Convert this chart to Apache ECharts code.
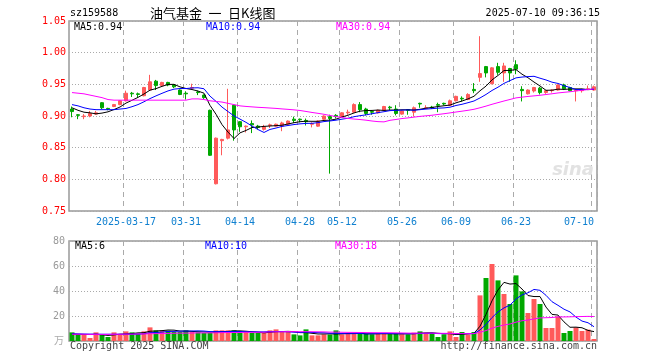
<!DOCTYPE html>
<html><head><meta charset="utf-8">
<script src="https://cdn.jsdelivr.net/npm/echarts@6/dist/echarts.min.js"></script>
<style>html,body{margin:0;padding:0;background:#fff}#c{width:660px;height:360px}</style>
</head><body><div id="c"></div>
<script>
const dates = [
'2025-03-04','2025-03-05','2025-03-06','2025-03-07','2025-03-10','2025-03-11','2025-03-12','2025-03-13','2025-03-14',
'2025-03-17','2025-03-18','2025-03-19','2025-03-20','2025-03-21',
'2025-03-24','2025-03-25','2025-03-26','2025-03-27','2025-03-28',
'2025-03-31','2025-04-01','2025-04-02','2025-04-03',
'2025-04-07','2025-04-08','2025-04-09','2025-04-10','2025-04-11',
'2025-04-14','2025-04-15','2025-04-16','2025-04-17','2025-04-18',
'2025-04-21','2025-04-22','2025-04-23','2025-04-24','2025-04-25',
'2025-04-28','2025-04-29','2025-04-30',
'2025-05-06','2025-05-07','2025-05-08','2025-05-09',
'2025-05-12','2025-05-13','2025-05-14','2025-05-15','2025-05-16',
'2025-05-19','2025-05-20','2025-05-21','2025-05-22','2025-05-23',
'2025-05-26','2025-05-27','2025-05-28','2025-05-29','2025-05-30',
'2025-06-03','2025-06-04','2025-06-05','2025-06-06',
'2025-06-09','2025-06-10','2025-06-11','2025-06-12','2025-06-13',
'2025-06-16','2025-06-17','2025-06-18','2025-06-19','2025-06-20',
'2025-06-23','2025-06-24','2025-06-25','2025-06-26','2025-06-27',
'2025-06-30','2025-07-01','2025-07-02','2025-07-03','2025-07-04',
'2025-07-07','2025-07-08','2025-07-09','2025-07-10'];

const opens = [.911,.902,.899,.900,.903,.921,.912,.915,.918,.924,
.936,.935,.932,.941,.955,.948,.953,.949,.941,.936,
.944,.938,.933,.909,.793,.861,.865,.917,.891,.883,
.888,.884,.879,.885,.884,.884,.887,.895,.895,.893,
.887,.884,.895,.899,.901,.899,.905,.906,.918,.911,
.907,.905,.909,.914,.911,.903,.910,.906,.920,.912,
.914,.918,.920,.917,.924,.928,.926,.942,.961,.978,
.951,.978,.968,.975,.981,.942,.935,.9395,.944,.937,
.940,.941,.949,.945,.940,.940,.942,.941];
const closes = [.907,.901,.900,.904,.905,.913,.911,.918,.924,.936,
.935,.934,.945,.954,.948,.953,.949,.946,.934,.935,
.945,.937,.929,.838,.865,.863,.878,.878,.883,.884,
.886,.882,.883,.886,.887,.889,.892,.893,.894,.891,
.888,.892,.900,.896,.899,.905,.906,.918,.910,.904,
.906,.909,.915,.913,.904,.908,.909,.913,.919,.913,
.913,.917,.919,.924,.931,.927,.934,.940,.967,.968,
.976,.969,.979,.968,.974,.940,.941,.945,.937,.940,
.941,.949,.943,.940,.941,.941,.943,.946];
const lows = [.898,.895,.895,.898,.902,.911,.909,.914,.917,.923,
.930,.929,.931,.940,.941,.947,.947,.944,.933,.926,
.943,.933,.927,.837,.792,.838,.863,.861,.875,.874,
.873,.879,.877,.881,.883,.876,.886,.889,.890,.885,
.882,.883,.894,.809,.896,.898,.902,.905,.906,.901,
.902,.904,.908,.909,.901,.902,.902,.899,.913,.911,
.911,.906,.917,.916,.923,.923,.925,.936,.954,.961,
.950,.965,.954,.954,.966,.923,.934,.937,.934,.935,
.937,.940,.941,.939,.923,.937,.941,.940];
const highs = [.915,.903,.903,.908,.908,.922,.913,.919,.925,.940,
.938,.937,.946,.965,.957,.954,.954,.950,.942,.939,
.951,.940,.934,.910,.866,.864,.943,.918,.892,.885,
.893,.886,.886,.888,.888,.891,.893,.899,.896,.896,
.890,.893,.901,.902,.903,.906,.910,.920,.922,.913,
.909,.910,.916,.916,.917,.909,.911,.915,.921,.917,
.916,.921,.921,.926,.932,.931,.936,.952,1.026,.979,
.977,.984,.984,.976,.988,.947,.942,.946,.946,.941,
.942,.950,.951,.946,.942,.943,.948,.948];

// volume in 万
const volumes = [6.9,5.6,4.8,2.4,6.9,5.1,3.2,6.9,5.1,7.7,
6.9,5.9,7.7,10.9,8.5,8.5,8.3,7.2,7.2,8.5,
7.2,6.9,6.4,6.4,8.5,8.5,8.5,8.5,6.4,7.2,
6.4,6.4,6.4,8.5,9.3,7.2,7.2,5.3,4.5,9.3,
4.5,4.5,5.3,5.2,8.5,5.3,5.9,5.9,6.1,5.6,
5.4,5.9,6.2,5.5,6.0,5.7,5.3,6.7,7.7,6.7,
6.4,3.2,5.3,7.7,3.2,7.2,5.1,7.2,36.5,50.4,
61.6,48.5,37.6,29.6,52.5,39.7,22.4,33.6,29.6,10.4,
10.4,19.7,6.4,8.0,10.9,8.0,9.1,1.6];

// moving-average values at the left edge (they depend on earlier days)
const ma5Head = [.913,.909,.906,.905];
const ma10Head = [.918,.916,.913,.911,.910,.910,.910,.910,.911];
const ma30Head = [.937,.936,.935,.933,.931,.929,.926,.925,.925,.925,.925,.925,.925,.925,.925,.925,.925,.925,.925,.925,.927,.927,.926,.924,.923,.922,.920,.918,.916];
const vma5Head = [5.5,5.3,5.2,5.2];
const vma10Head = [5.8,5.7,5.6,5.5,5.5,5.4,5.4,5.4,5.4];
const vma30Head = [5.4,5.4,5.4,5.3,5.3,5.3,5.3,5.4,5.4,5.5,5.5,5.6,5.7,5.8,5.9,6.0,6.1,6.2,6.3,6.3,6.4,6.5,6.5,6.5,6.6,6.7,6.8,6.8,6.8];

const tickDates = ['2025-03-17','2025-03-31','2025-04-14','2025-04-28','2025-05-12','2025-05-26','2025-06-09','2025-06-23','2025-07-10'];
const tickLabels = ['2025-03-17','03-31','04-14','04-28','05-12','05-26','06-09','06-23','07-10'];
const priceTicks = {min: 0.75, max: 1.05, interval: 0.05};
const volTicks = {min: 0, max: 80, interval: 20};
const mainLegend = ['MA5:0.94','MA10:0.94','MA30:0.94'];
const volLegend = ['MA5:6','MA10:10','MA30:18'];

function ma(vals, n, head){
  return vals.map((v,i)=>{
    if(i<head.length) return head[i];
    let s=0; for(let j=i-n+1;j<=i;j++) s+=vals[j];
    return +(s/n).toFixed(4);
  });
}
const UP='#ff5a5a', DOWN='#00a800';
const candle = dates.map((d,i)=>[opens[i],closes[i],lows[i],highs[i]]);
const volData = volumes.map((v,i)=>({value:v,itemStyle:{color: closes[i]>=opens[i]?UP:DOWN}}));

const MONO = '"DejaVu Sans Mono", "Liberation Mono", monospace';
const isTick = (i,v)=>tickDates.indexOf(v)>=0;
const vSplit = {show:true, interval:isTick, lineStyle:{color:'#aaa', type:[5,4], width:1}};
const hSplit = {show:true, lineStyle:{color:'#aaa', type:[1,2], width:1}};

const chart = echarts.init(document.getElementById('c'), null, {renderer:'canvas'});
function txt(x,y,text,fill,align,font){
  return {type:'text', x:x, y:y, z:100, style:{text:text, fill:fill, align:align||'left', verticalAlign:'middle', font:font||('10px '+MONO)}};
}
chart.setOption({
  animation:false,
  backgroundColor:'#fff',
  grid:[
    {left:69, right:63, top:21, height:190, show:true, borderColor:'#999', borderWidth:1.5, backgroundColor:'#fff'},
    {left:69, right:63, top:241, height:100, show:true, borderColor:'#999', borderWidth:1.5, backgroundColor:'#fff'}
  ],
  xAxis:[
    {type:'category', gridIndex:0, data:dates, boundaryGap:true,
     axisLine:{show:false}, axisTick:{show:false},
     axisLabel:{show:true, interval:isTick, formatter:v=>tickLabels[tickDates.indexOf(v)], color:'#1080d0', fontFamily:MONO, fontSize:10, margin:6, alignMaxLabel:'right'},
     splitLine:vSplit},
    {type:'category', gridIndex:1, data:dates, boundaryGap:true,
     axisLine:{show:false}, axisTick:{show:false}, axisLabel:{show:false},
     splitLine:vSplit}
  ],
  yAxis:[
    {type:'value', gridIndex:0, min:priceTicks.min, max:priceTicks.max, interval:priceTicks.interval,
     axisLine:{show:false}, axisTick:{show:false},
     axisLabel:{color:'#ff0000', fontFamily:MONO, fontSize:10, margin:3, formatter:v=>v.toFixed(2)},
     splitLine:hSplit},
    {type:'value', gridIndex:1, min:volTicks.min, max:volTicks.max, interval:volTicks.interval,
     axisLine:{show:false}, axisTick:{show:false},
     axisLabel:{color:'#999', fontFamily:MONO, fontSize:10, margin:4, formatter:v=>v===0?'':String(v)},
     splitLine:hSplit}
  ],
  series:[
    {type:'candlestick', xAxisIndex:0, yAxisIndex:0, data:candle, barWidth:4,
     itemStyle:{color:UP, color0:DOWN, borderColor:UP, borderColor0:DOWN, borderWidth:1}, z:2},
    {type:'line', xAxisIndex:0, yAxisIndex:0, data:ma(closes,5,ma5Head), symbol:'none', lineStyle:{color:'#000',width:1}, z:5},
    {type:'line', xAxisIndex:0, yAxisIndex:0, data:ma(closes,10,ma10Head), symbol:'none', lineStyle:{color:'#0000ff',width:1}, z:5},
    {type:'line', xAxisIndex:0, yAxisIndex:0, data:ma(closes,30,ma30Head), symbol:'none', lineStyle:{color:'#ff00ff',width:1}, z:5},
    {type:'bar', xAxisIndex:1, yAxisIndex:1, data:volData, barWidth:5, z:2},
    {type:'line', xAxisIndex:1, yAxisIndex:1, data:ma(volumes,5,vma5Head), symbol:'none', lineStyle:{color:'#000',width:1}, z:5},
    {type:'line', xAxisIndex:1, yAxisIndex:1, data:ma(volumes,10,vma10Head), symbol:'none', lineStyle:{color:'#0000ff',width:1}, z:5},
    {type:'line', xAxisIndex:1, yAxisIndex:1, data:ma(volumes,30,vma30Head), symbol:'none', lineStyle:{color:'#ff00ff',width:1}, z:5}
  ],
  graphic:[
    txt(70,13,'sz159588','#000'),
    txt(150,13,'油气基金\u2002一\u2002日K线图','#000','left','13px "Noto Sans CJK SC"'),
    txt(600,13,'2025-07-10 09:36:15','#000','right'),
    txt(74,27,mainLegend[0],'#000'),
    txt(206,27,mainLegend[1],'#0000ff'),
    txt(336,27,mainLegend[2],'#ff00ff'),
    txt(75,246,volLegend[0],'#000'),
    txt(205,246,volLegend[1],'#0000ff'),
    txt(335,246,volLegend[2],'#ff00ff'),
    txt(64,340,'万','#aaa','right','10px "Noto Sans CJK SC"'),
    txt(70,346,'Copyright 2025 SINA.COM','#444'),
    txt(597,346,'http://finance.sina.com.cn','#444','right'),
    {type:'text', x:594, y:170, z:1, style:{text:'sina', fill:'#e2e2e2', align:'right', verticalAlign:'middle', font:'italic bold 18px "DejaVu Sans"'}}
  ]
});
</script></body></html>
